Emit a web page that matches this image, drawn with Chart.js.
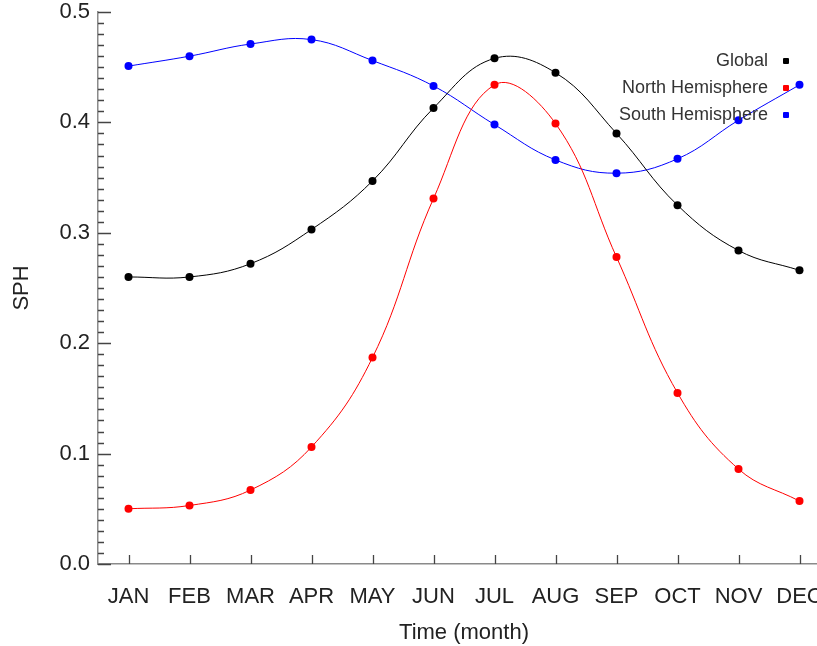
<!DOCTYPE html>
<html>
<head>
<meta charset="utf-8">
<title>SPH by month</title>
<script src="https://cdn.jsdelivr.net/npm/chart.js@4.4.1/dist/chart.umd.min.js"></script>
<style>
    html, body { margin: 0; padding: 0; background: #fff; overflow: hidden; }
    #wrap { position: relative; width: 845px; height: 646px; }
    #legend {
        position: absolute; top: 47px; right: 56px;
        font: 18px 'Liberation Sans', Arial, sans-serif; color: #333;
    }
    .legend-row { display: flex; justify-content: flex-end; align-items: center; height: 27px; }
    .legend-dot { width: 6px; height: 6px; margin-left: 15px; border-radius: 1px; }
</style>
</head>
<body>
<div id="wrap">
    <canvas id="sphChart" width="845" height="646"></canvas>
    <div id="legend"></div>
</div>
<script>
// --- Data ---
const months = ['JAN', 'FEB', 'MAR', 'APR', 'MAY', 'JUN', 'JUL', 'AUG', 'SEP', 'OCT', 'NOV', 'DEC'];
const globalSph = [0.260, 0.260, 0.272, 0.303, 0.347, 0.413, 0.458, 0.445, 0.390, 0.325, 0.284, 0.266];
const northSph = [0.050, 0.053, 0.067, 0.106, 0.187, 0.331, 0.434, 0.399, 0.278, 0.155, 0.086, 0.057];
const southSph = [0.451, 0.460, 0.471, 0.475, 0.456, 0.433, 0.398, 0.366, 0.354, 0.367, 0.402, 0.434];
const yTickValues = [0.0, 0.1, 0.2, 0.3, 0.4, 0.5];

const seriesNames = ['Global', 'North Hemisphere', 'South Hemisphere'];
const seriesColors = ['#000000', '#ff0000', '#0000ff'];

const FONT = "'Liberation Sans', Arial, sans-serif";

// --- Inward axis ticks (major + minor on y, months on x) ---
const axisTicks = {
    id: 'axisTicks',
    afterDraw(chart) {
        const { ctx, chartArea, scales: { x, y } } = chart;
        ctx.save();
        ctx.strokeStyle = '#444';
        ctx.lineWidth = 1.3;
        ctx.beginPath();
        const yMin = yTickValues[0];
        const yMax = yTickValues[yTickValues.length - 1];
        const steps = Math.round((yMax - yMin) * 100);
        for (let i = 0; i <= steps; i++) {
            const py = Math.round(y.getPixelForValue(yMin + i / 100)) + 0.5;
            const len = i % 10 === 0 ? 13 : 6;
            ctx.moveTo(chartArea.left, py);
            ctx.lineTo(chartArea.left + len, py);
        }
        months.forEach((m, i) => {
            const px = Math.round(x.getPixelForValue(i)) + 0.5;
            ctx.moveTo(px, chartArea.bottom);
            ctx.lineTo(px, chartArea.bottom - 9);
        });
        ctx.stroke();
        ctx.restore();
    }
};

function makeDataset(idx, values) {
    return {
        label: seriesNames[idx],
        data: values,
        borderColor: seriesColors[idx],
        backgroundColor: seriesColors[idx],
        borderWidth: 1,
        pointRadius: 4,
        pointBorderWidth: 0,
        tension: 0.4,
        fill: false
    };
}

new Chart(document.getElementById('sphChart'), {
    type: 'line',
    data: {
        labels: months,
        datasets: [
            makeDataset(0, globalSph),
            makeDataset(1, northSph),
            makeDataset(2, southSph)
        ]
    },
    options: {
        responsive: false,
        animation: false,
        layout: { padding: { top: 12, right: 15, bottom: 0, left: 0 } },
        plugins: {
            legend: { display: false },
            tooltip: { enabled: false }
        },
        scales: {
            x: {
                offset: true,
                grid: { display: true, drawOnChartArea: false, drawTicks: false },
                border: { color: '#8a8a8a', width: 1.5 },
                ticks: { color: '#222', padding: 20, font: { family: FONT, size: 22 }, maxRotation: 0, autoSkip: false },
                title: { display: true, text: 'Time (month)', color: '#222', padding: { top: 0, bottom: 0 }, font: { family: FONT, size: 22 } },
                afterFit(scale) { scale.height = 82; }
            },
            y: {
                min: yTickValues[0],
                max: yTickValues[yTickValues.length - 1],
                afterBuildTicks(scale) { scale.ticks = yTickValues.map(v => ({ value: v })); },
                grid: { display: true, drawOnChartArea: false, drawTicks: false },
                border: { color: '#8a8a8a', width: 1.5 },
                ticks: {
                    color: '#222', padding: 8, font: { family: FONT, size: 22 },
                    callback: v => Number(v).toFixed(1)
                },
                title: { display: true, text: 'SPH', color: '#222', padding: { top: 9, bottom: 0 }, font: { family: FONT, size: 22 } },
                afterFit(scale) {
                    scale.width = 98;
                    scale.paddingTop = 0;
                    scale.paddingBottom = 0;
                }
            }
        }
    },
    plugins: [axisTicks]
});

// --- Legend (text left of marker, top right inside plot) ---
const legendEl = document.getElementById('legend');
seriesNames.forEach((name, i) => {
    const row = document.createElement('div');
    row.className = 'legend-row';
    const label = document.createElement('span');
    label.textContent = name;
    const dot = document.createElement('span');
    dot.className = 'legend-dot';
    dot.style.background = seriesColors[i];
    row.appendChild(label);
    row.appendChild(dot);
    legendEl.appendChild(row);
});
</script>
</body>
</html>
